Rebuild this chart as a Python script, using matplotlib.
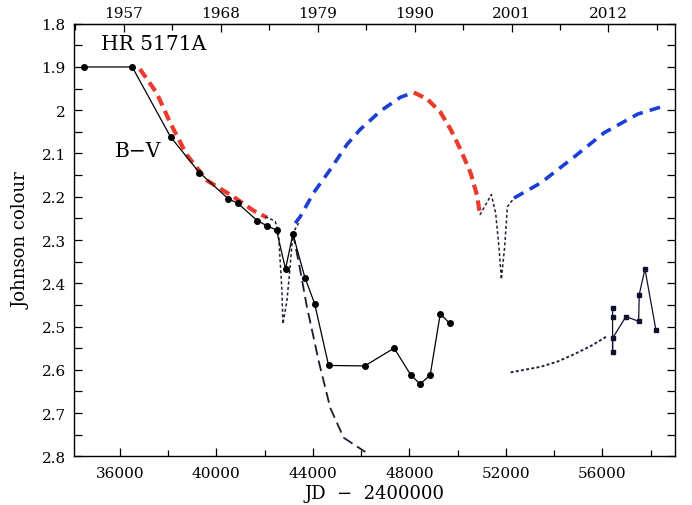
import numpy as np
import matplotlib
matplotlib.use('Agg')
import matplotlib.pyplot as plt
from matplotlib.ticker import MultipleLocator, FixedLocator, FuncFormatter

plt.rcParams['font.family'] = ['DejaVu Serif']

# B-V observations (JD - 2400000, colour)
obs1_jd = [34505, 36511, 38105, 39294, 40499, 40889, 41691, 42093, 42493,
           42867, 43172, 43671, 44073, 44653, 46150, 47369, 48060, 48450,
           48865, 49280, 49667]
obs1_bv = [1.900, 1.900, 2.062, 2.144, 2.205, 2.215, 2.255, 2.267, 2.277,
           2.367, 2.286, 2.387, 2.447, 2.590, 2.591, 2.550, 2.612, 2.633,
           2.612, 2.471, 2.492]

obs2_jd = [56425, 56425, 56425, 56425, 56978, 57505, 57530, 57767, 58224]
obs2_bv = [2.457, 2.477, 2.558, 2.527, 2.477, 2.488, 2.426, 2.367, 2.509]

# model curves
red1_jd = [36831, 37525, 38077, 38771, 39601, 40706, 41537, 42094]
red1_bv = [1.905, 1.960, 2.028, 2.103, 2.162, 2.200, 2.232, 2.248]

dot1_jd = [42023, 42301, 42439, 42576, 42717, 42759, 42925, 43033, 43174, 43407]
dot1_bv = [2.246, 2.253, 2.257, 2.284, 2.416, 2.494, 2.440, 2.377, 2.284, 2.261]

blue1_jd = [43270, 43477, 44030, 44723, 45417, 45970, 46800, 47631, 47976, 48184]
blue1_bv = [2.261, 2.246, 2.191, 2.137, 2.079, 2.044, 2.002, 1.970, 1.963, 1.959]

red2_jd = [48184, 48740, 49293, 49708, 50124, 50539, 50817, 50925]
red2_bv = [1.959, 1.974, 2.005, 2.044, 2.091, 2.145, 2.199, 2.242]

dot2_jd = [50925, 51399, 51578, 51715, 51814, 51951, 52064, 52338]
dot2_bv = [2.242, 2.195, 2.238, 2.316, 2.391, 2.316, 2.223, 2.203]

blue2_jd = [52338, 53447, 54830, 56077, 57464, 58569]
blue2_bv = [2.203, 2.168, 2.108, 2.052, 2.009, 1.990]

fall_jd = [43174, 43477, 43755, 44030, 44237, 44722, 45276, 46177]
fall_bv = [2.284, 2.370, 2.455, 2.525, 2.579, 2.688, 2.757, 2.790]

dot3_jd = [52200, 53447, 54140, 54830, 55523, 56176]
dot3_bv = [2.606, 2.593, 2.581, 2.564, 2.545, 2.523]

year_ticks = [1957, 1968, 1979, 1990, 2001, 2012]

fig = plt.figure(figsize=(6.92, 5.06), dpi=100)
ax = fig.add_axes([0.107, 0.0962, 0.868, 0.855])

red = '#ec3a2c'
blue = '#1a3ed6'

ax.plot(red1_jd, red1_bv, color=red, lw=3.0, dashes=(2.5, 1.4), zorder=2)
ax.plot(red2_jd, red2_bv, color=red, lw=3.0, dashes=(2.5, 1.4), zorder=2)
ax.plot(blue1_jd, blue1_bv, color=blue, lw=2.6, dashes=(3.0, 2.0), zorder=2)
ax.plot(blue2_jd, blue2_bv, color=blue, lw=2.6, dashes=(3.0, 2.0), zorder=2)
ax.plot(dot1_jd, dot1_bv, color='#222233', lw=1.1, dashes=(2, 1.6), zorder=3)
ax.plot(dot2_jd, dot2_bv, color='#222233', lw=1.1, dashes=(2, 1.6), zorder=3)
ax.plot(dot3_jd, dot3_bv, color='#222244', lw=1.4, dashes=(1.5, 1.2), zorder=3)
ax.plot(fall_jd, fall_bv, color='#1a1a33', lw=1.3, dashes=(6, 3), zorder=3)

ax.plot(obs1_jd, obs1_bv, 'k-', lw=0.9, marker='o', markersize=4, zorder=4)
ax.plot(obs2_jd, obs2_bv, 'k-', lw=0.9, marker='s', markersize=3.5,
        color='#101030', zorder=4)

ax.set_xlim(34100, 59000)
ax.set_ylim(2.8, 1.8)

ax.xaxis.set_major_locator(MultipleLocator(4000))
ax.xaxis.set_minor_locator(MultipleLocator(2000))
ax.yaxis.set_major_locator(MultipleLocator(0.1))
ax.yaxis.set_minor_locator(MultipleLocator(0.05))
ax.yaxis.set_major_formatter(FuncFormatter(lambda v, p: '%g' % round(v, 2)))

ax.tick_params(which='both', direction='in', top=False, right=True,
               labelsize=11)
ax.tick_params(which='major', length=6, width=0.9)
ax.tick_params(which='minor', length=4, width=0.9)
ax.tick_params(axis='y', which='both', length=6, pad=6)
ax.tick_params(axis='x', which='both', pad=7)

# calendar years on top
def jd2yr(jd):
    return 1957 + (np.asarray(jd) - 36166) / 365.25

def yr2jd(yr):
    return 36166 + (np.asarray(yr) - 1957) * 365.25

top = ax.secondary_xaxis('top', functions=(jd2yr, yr2jd))
top.xaxis.set_major_locator(FixedLocator(year_ticks))
top.xaxis.set_minor_locator(FixedLocator([y + 5.5 for y in [1946] + year_ticks]))
top.tick_params(which='both', direction='in', labelsize=11, pad=3)
top.tick_params(which='major', length=6, width=0.9)
top.tick_params(which='minor', length=4, width=0.9)

for s in ax.spines.values():
    s.set_linewidth(1.0)

ax.set_xlabel('JD  \u2212  2400000', fontsize=13, labelpad=3)
ax.set_ylabel('Johnson colour', fontsize=13, labelpad=8)

ax.text(35200, 1.845, 'HR 5171A', fontsize=14.5, ha='left', va='center')
ax.text(35800, 2.092, 'B\u2212V', fontsize=14.5, ha='left', va='center')

fig.savefig('out.png', dpi=100)
